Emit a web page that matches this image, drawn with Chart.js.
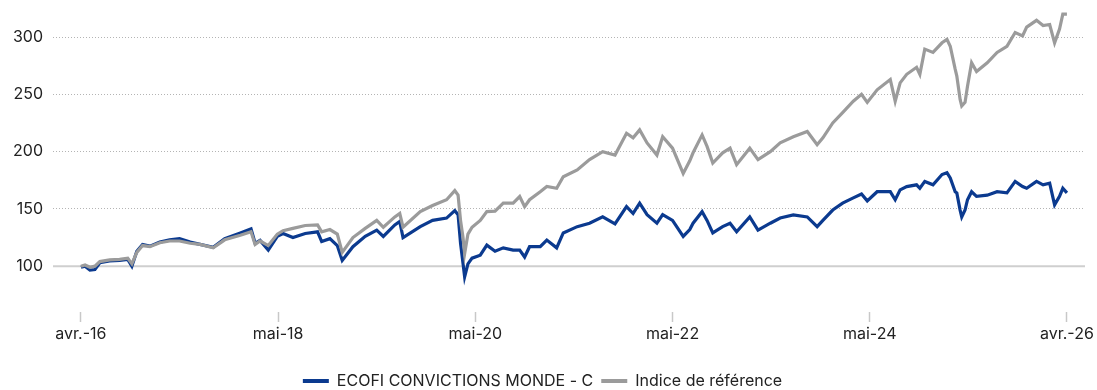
<!DOCTYPE html>
<html lang="fr">
<head>
<meta charset="utf-8">
<title>ECOFI CONVICTIONS MONDE - C</title>
<script src="https://cdn.jsdelivr.net/npm/chart.js@4.4.1/dist/chart.umd.min.js"></script>
<style>
  html, body { margin: 0; padding: 0; background: #ffffff; }
  #wrap { width: 1097px; height: 390px; position: relative; }
</style>
</head>
<body>
<div id="wrap"><canvas id="perf"></canvas></div>
<script>
// Months elapsed since the start of the track record (avr. 2016)
const months = [0,0.5,1.1,1.7,2.3,3.5,4.7,5.7,6.2,6.8,
  7.5,8.4,9.6,10.8,12.0,13.3,14.5,16.1,17.5,19.4,
  20.7,21.2,21.8,22.8,23.9,24.6,25.8,27.3,28.8,29.3,
  30.3,31.2,31.8,33.1,34.6,36.0,36.8,38.2,38.8,39.2,
  41.3,42.8,44.5,45.5,45.9,46.2,46.5,46.7,47.1,47.6,
  48.6,49.4,50.4,51.4,52.6,53.4,54.0,54.6,55.9,56.7,
  57.9,58.7,60.4,61.9,63.5,65.0,66.4,67.2,68.0,68.9,
  70.1,70.8,72.0,73.3,74.1,74.5,75.6,76.2,76.9,78.1,
  79.0,79.8,81.4,82.4,83.9,85.1,86.7,88.4,89.6,90.3,
  91.5,92.7,94.0,95.0,95.7,96.9,98.5,99.1,99.7,100.5,
  101.7,102.1,102.7,103.7,104.8,105.4,105.8,106.4,106.6,107.0,
  107.2,107.6,107.9,108.4,109.0,110.3,111.5,112.7,113.7,114.6,
  115.1,116.3,117.1,117.9,118.5,119.1,119.5,120.0];

// Fund, base 100
const fundValues = [99,100,96.5,97,103,104.5,105,106,100,113,
  119,117.5,121,123,124,121,119,116.5,124,129,
  132.5,120,122.5,114,126,128.5,125,128.5,130,121.5,
  124,118,105,117,126,131.5,126,136,139,125,
  134.5,140,142,148.5,145,120,102.6,90.7,102,107,
  109.6,118.4,113,116,114,114,108,117,117,122.8,
  116,129,134.5,137.5,143,137,152,146,155,145,
  137.5,145,140,126,132,137.5,147.6,140,129,134.5,
  137.5,130,143,131.5,137.5,142,144.7,143,134.5,140,
  149,155,159.6,163,157,165,165,158,166.6,169.5,
  171,168,174,171,180,181.6,177,165,164,149,
  143,149,158,165,161,162,165,164,174,169.5,
  168,174,171,172.5,153.5,161,168,164];

// Benchmark, base 100
const benchmarkValues = [100,101,99,100,104,105.5,106,107,102,112,
  118,117,120.5,122,122,120,119,116,123,127,
  130,119,122,118,128,131,133,135.5,136,130,
  132,128,112,125,133,140,134,143,146,134,
  147.6,153,158,166,162,140,125,111,128,134,
  140,147.6,148,155,155,160.8,152,158,165,169.6,
  168,178,184,193,200,197,216,212,219,207.6,
  197,213,203,181,192,199,214.6,204.6,190,199,
  203,188.6,203,193,200,207.6,213,217.6,206,212,
  225,234,244,250,243,254,263,244,260,267.5,
  273.6,267.5,289.5,286.6,295,298,292,272,266,245.6,
  239.8,243,257,277.6,270,277.6,286.6,292,304,301,
  308.7,314.6,310,311,295,307,320,320];

const seriesNames = ['ECOFI CONVICTIONS MONDE - C', 'Indice de référence'];
const seriesColors = ['#0b3a8f', '#9b9b9b'];

const xTickMonths = [0, 24, 48, 72, 96, 120];
const xTickLabels = ['avr.-16', 'mai-18', 'mai-20', 'mai-22', 'mai-24', 'avr.-26'];
const yTickValues = [100, 150, 200, 250, 300];

const toPoints = vals => vals.map((v, i) => ({ x: months[i], y: v }));

// Solid reference line at base 100
const baseLine = {
  id: 'baseLine',
  beforeDatasetsDraw(chart) {
    const { ctx, chartArea, scales } = chart;
    const y = scales.y.getPixelForValue(100);
    ctx.save();
    ctx.strokeStyle = '#cfcfcf';
    ctx.lineWidth = 2;
    ctx.beginPath();
    ctx.moveTo(chartArea.left, y);
    ctx.lineTo(chartArea.right, y);
    ctx.stroke();
    ctx.restore();
  }
};

// Keep the legend strip compact at the bottom edge
const LEGEND_HEIGHT = 25;
const compactLegend = {
  id: 'compactLegend',
  beforeLayout(chart) {
    const lg = chart.legend;
    if (lg && !lg._compact) {
      const fit = lg.fit.bind(lg);
      lg.fit = function () { fit(); this.height = LEGEND_HEIGHT; };
      lg._compact = true;
    }
  }
};

const font = { family: 'Inter, "Noto Sans", sans-serif', size: 16 };

new Chart(document.getElementById('perf'), {
  type: 'line',
  data: {
    datasets: [
      {
        label: seriesNames[0],
        data: toPoints(fundValues),
        borderColor: seriesColors[0],
        backgroundColor: seriesColors[0],
        borderWidth: 3.2,
        pointRadius: 0,
        tension: 0,
        order: 1
      },
      {
        label: seriesNames[1],
        data: toPoints(benchmarkValues),
        borderColor: seriesColors[1],
        backgroundColor: seriesColors[1],
        borderWidth: 3.2,
        pointRadius: 0,
        tension: 0,
        order: 0
      }
    ]
  },
  plugins: [baseLine, compactLegend],
  options: {
    responsive: true,
    maintainAspectRatio: false,
    animation: false,
    layout: { padding: { top: 5, right: 12, left: 0, bottom: 0 } },
    scales: {
      x: {
        type: 'linear',
        min: -3.4,
        max: 122.2,
        afterBuildTicks(axis) { axis.ticks = xTickMonths.map(v => ({ value: v })); },
        afterFit(axis) { axis.height = 53; axis.paddingLeft = 0; axis.paddingRight = 0; },
        ticks: {
          autoSkip: false,
          maxRotation: 0,
          padding: 3,
          color: '#222222',
          font,
          callback: (v) => xTickLabels[xTickMonths.indexOf(v)] ?? ''
        },
        grid: {
          drawOnChartArea: false,
          drawTicks: true,
          tickLength: 10,
          tickColor: '#c8c8c8',
          tickWidth: 1.5
        },
        border: { display: false }
      },
      y: {
        min: 60,
        max: 328,
        afterBuildTicks(axis) { axis.ticks = yTickValues.map(v => ({ value: v })); },
        afterFit(axis) { axis.width = 53; axis.paddingTop = 0; axis.paddingBottom = 0; },
        ticks: {
          padding: 10,
          color: '#222222',
          font
        },
        grid: {
          drawTicks: false,
          lineWidth: 1,
          color: ctx => (ctx.tick && ctx.tick.value === 100) ? 'rgba(0,0,0,0)' : '#b4b4b4'
        },
        border: { display: false, dash: [1, 2] }
      }
    },
    plugins: {
      tooltip: { enabled: false },
      legend: {
        position: 'bottom',
        labels: {
          color: '#222222',
          font,
          boxWidth: 26,
          boxHeight: 4,
          padding: 8,
          generateLabels: (chart) => chart.data.datasets.map((ds, i) => ({
            text: ds.label,
            fillStyle: ds.borderColor,
            strokeStyle: ds.borderColor,
            lineWidth: 0,
            fontColor: '#222222',
            hidden: false,
            datasetIndex: i
          }))
        }
      }
    }
  }
});
</script>
</body>
</html>
